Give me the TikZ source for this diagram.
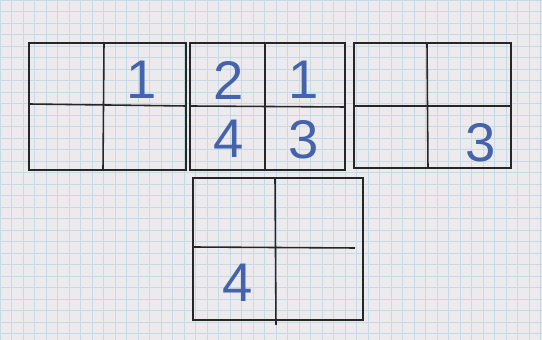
\documentclass[tikz,border=0pt]{standalone}
\usepackage{fontspec}
\setsansfont{Liberation Sans}
\usepackage{xcolor}
\definecolor{Paper}{HTML}{EDEAED}
\definecolor{Rule}{HTML}{C6DAE6}
\definecolor{Pen}{HTML}{262626}
\definecolor{Ink}{HTML}{4563AA}

\begin{document}
\begin{tikzpicture}[x=0.02cm,y=-0.02cm,
  every node/.style={font=\sffamily\fontsize{31}{31}\selectfont,text=Ink,inner sep=0pt},
  pen/.style={draw=Pen,line width=0.9pt}]
  \fill[Paper] (0,0) rectangle (542,340);
  \useasboundingbox (0,0) rectangle (542,340);
  \draw[Rule,line width=0.35pt,step=0.23cm] (0,0) grid (542,340);
  % top row
  \draw[pen] (29,43) rectangle (186,170);
  \draw[pen] (104,43) -- (103,170);
  \draw[pen] (29,104) -- (186,106);
  \draw[pen] (190,43) rectangle (345,170);
  \draw[pen] (265,43) -- (265,170);
  \draw[pen] (190,106) -- (345,107);
  \draw[pen] (354,43) rectangle (511,168);
  \draw[pen] (427,43) -- (428,168);
  \draw[pen] (354,106) -- (511,106);
  % bottom
  \draw[pen] (193,178) rectangle (363,320);
  \draw[pen] (275,178) -- (276,325);
  \draw[pen] (193,247) -- (355,248);
  \node (a1) at (142,80) {1};
  \node (b2) at (229,80) {2};
  \node (b1) at (304,80) {1};
  \node (b4) at (229,139) {4};
  \node (b3) at (304,140) {3};
  \node (c3) at (481,143) {3};
  \node (d4) at (238,283) {4};
\end{tikzpicture}
\end{document}
